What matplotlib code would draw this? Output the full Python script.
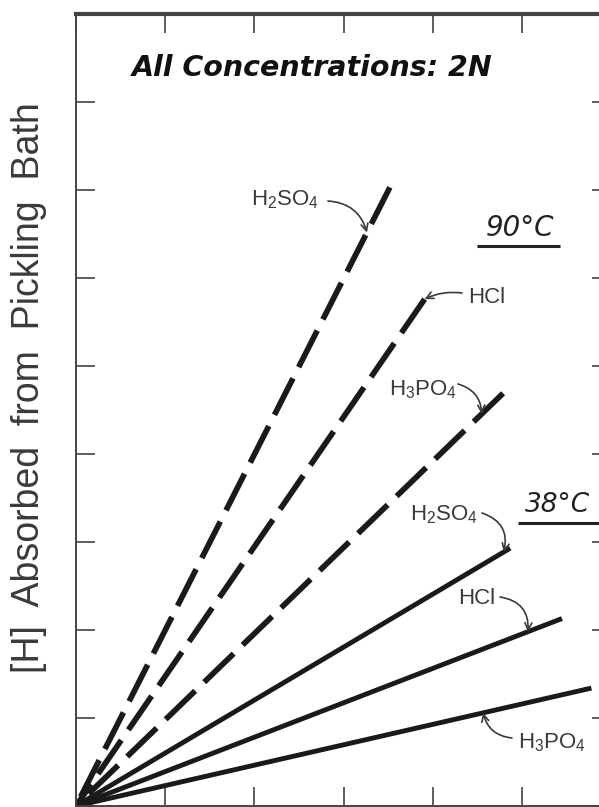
import matplotlib
matplotlib.use("Agg")
import matplotlib.pyplot as plt
import numpy as np

plt.rcParams['mathtext.fontset'] = 'custom'
plt.rcParams['mathtext.rm'] = 'Liberation Sans'
plt.rcParams['mathtext.it'] = 'Liberation Sans:italic'
plt.rcParams['mathtext.bf'] = 'Liberation Sans:bold'

# ---------------- data ----------------
acids = ['H$_\\mathrm{2}$SO$_\\mathrm{4}$', 'HCl', 'H$_\\mathrm{3}$PO$_\\mathrm{4}$']
x_end_90 = [3.52, 3.91, 4.79]
y_end_90 = [7.03, 5.76, 4.69]
x_end_38 = [4.87, 5.45, 5.78]
y_end_38 = [2.93, 2.13, 1.34]
x_ticks = [0, 1, 2, 3, 4, 5, 6]
y_ticks = [0, 1, 2, 3, 4, 5, 6, 7, 8, 9]

# ---------------- layout ----------------
W, H = 599, 807
fig = plt.figure(figsize=(W / 100, H / 100), dpi=100)
fig.patch.set_facecolor('white')
L, R, T, B = 76, 611, 14, 806
ax = fig.add_axes([L / W, (H - B) / H, (R - L) / W, (B - T) / H])
ax.set_xlim(0, 6)
ax.set_ylim(0, 9)
ax.set_xticks(x_ticks)
ax.set_yticks(y_ticks)
ax.tick_params(direction='in', length=13.5, width=1.1, color='#333333',
               top=True, bottom=True, left=True, right=True,
               labelbottom=False, labelleft=False)
for s in ax.spines.values():
    s.set_color('#444444')
ax.spines['top'].set_linewidth(3.0)
ax.spines['left'].set_linewidth(1.4)
ax.spines['bottom'].set_linewidth(1.4)
ax.spines['right'].set_linewidth(1.4)

def P(px, py):
    return ((px - L) / (R - L) * 6, (B - py) / (B - T) * 9)

line_col = '#1a1a1a'
# drawn from the end point back to the origin so each dashed line ends on a full dash
for xe, ye in zip(x_end_90, y_end_90):
    ax.plot([xe, 0], [ye, 0], color=line_col, lw=4.1, dashes=(7.2, 2.2),
            solid_capstyle='butt', dash_capstyle='butt')
for xe, ye in zip(x_end_38, y_end_38):
    ax.plot([0, xe], [0, ye], color=line_col, lw=3.5, solid_capstyle='butt')

txt_col = '#3a3a3a'
lab_kw = dict(fontsize=16, color=txt_col, family='Liberation Sans', ha='center', va='center')

# label centers (px), arrow tails (px), fraction along line for tip, curvature
labels_90 = [((285, 200), (328, 201), 0.927, -0.35),
             ((487, 298), (462, 293), 1.0, 0.15),
             ((423, 390), (458, 384), 0.95, -0.35)]
labels_38 = [((444, 515), (482, 513), 0.985, -0.45),
             ((477, 599), (500, 597), 0.93, -0.45),
             ((552, 743), (512, 738), 0.79, -0.35)]

def annotate(name, xe, ye, spec):
    (tx, ty), (ax_, ay_), t, rad = spec
    ax.text(*P(tx, ty), name, **lab_kw)
    ax.annotate('', xy=(t * xe, t * ye), xytext=P(ax_, ay_),
                arrowprops=dict(arrowstyle='->,head_length=0.5,head_width=0.25',
                                connectionstyle=f'arc3,rad={rad}',
                                color=txt_col, lw=1.2, shrinkA=0, shrinkB=0))

for name, xe, ye, spec in zip(acids, x_end_90, y_end_90, labels_90):
    annotate(name, xe, ye, spec)
for name, xe, ye, spec in zip(acids, x_end_38, y_end_38, labels_38):
    annotate(name, xe, ye, spec)

# temperature headings
ax.text(*P(520, 228), '90°C', fontsize=20, style='italic', color='#222222',
        family='DejaVu Sans', ha='center', va='center')
ax.plot(*zip(P(477, 246), P(560, 246)), color='#222222', lw=2.2, solid_capstyle='butt')
ax.text(*P(558, 505), '38°C', fontsize=19, style='italic', color='#222222',
        family='DejaVu Sans', ha='center', va='center')
ax.plot(*zip(P(518, 523), P(600, 523)), color='#222222', lw=2.2, solid_capstyle='butt',
        clip_on=False)

ax.text(*P(312, 68), 'All Concentrations: 2N', fontsize=20.5, style='italic',
        fontweight='bold', color='#111111', family='DejaVu Sans', ha='center', va='center')

fig.text(29 / W, 1 - 388 / H, '[H]  Absorbed  from  Pickling  Bath', rotation=90,
         fontsize=27, family='Liberation Sans', color='#3a3a3a', ha='center', va='center')

fig.savefig('out.png', dpi=100)
